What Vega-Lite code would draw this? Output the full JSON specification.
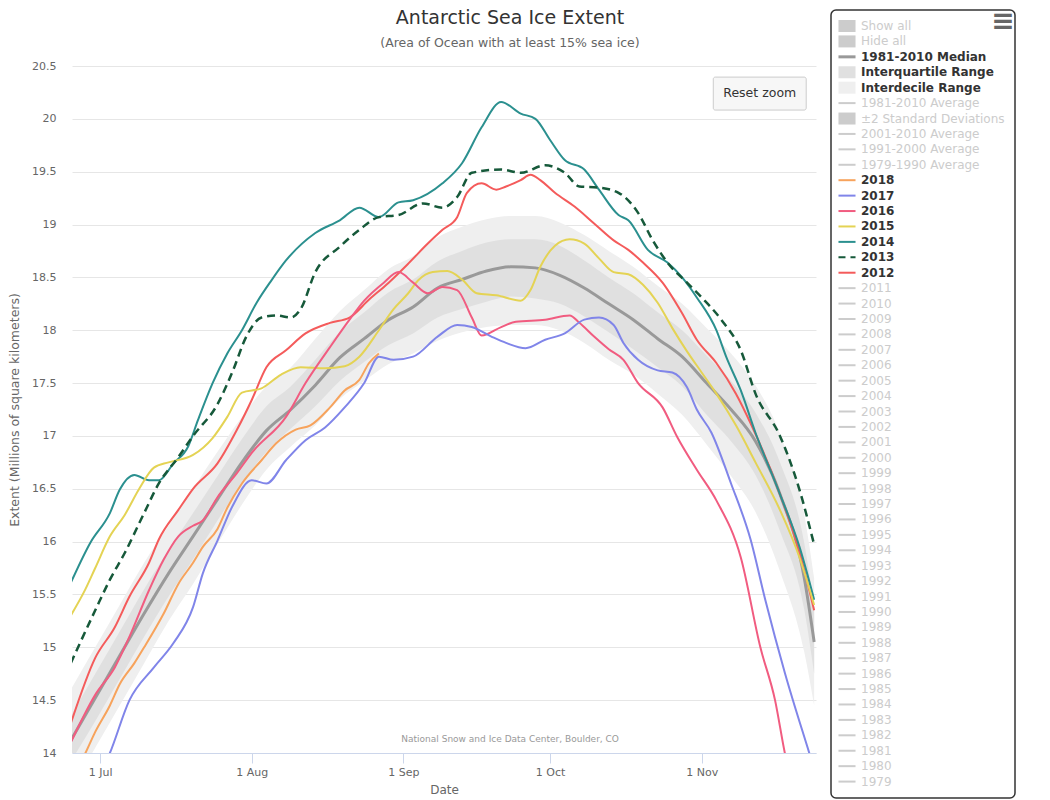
{
  "$schema": "https://vega.github.io/schema/vega-lite/v6.json",
  "width": 744,
  "height": 687,
  "autosize": {"type": "none"},
  "padding": {"left": 72, "top": 66, "right": 234, "bottom": 47},
  "background": "white",
  "config": {"font": "DejaVu Sans", "view": {"stroke": null}},
  "title": {
    "text": "Antarctic Sea Ice Extent",
    "subtitle": "(Area of Ocean with at least 15% sea ice)",
    "anchor": "middle",
    "frame": "group",
    "dx": 66,
    "dy": 56,
    "offset": 14,
    "font": "DejaVu Sans",
    "fontSize": 19,
    "fontWeight": "normal",
    "color": "#333333",
    "subtitleFont": "DejaVu Sans",
    "subtitleFontSize": 12.5,
    "subtitleColor": "#666666",
    "subtitlePadding": 9
  },
  "datasets": {
    "bands": [
      {"date": "2018-06-25", "med": 14.12, "id_lo": 13.65, "iq_lo": 13.92, "iq_hi": 14.35, "id_hi": 14.6},
      {"date": "2018-06-30", "med": 14.52, "id_lo": 14.05, "iq_lo": 14.3, "iq_hi": 14.75, "id_hi": 15.0},
      {"date": "2018-07-05", "med": 14.92, "id_lo": 14.45, "iq_lo": 14.7, "iq_hi": 15.15, "id_hi": 15.4},
      {"date": "2018-07-10", "med": 15.32, "id_lo": 14.85, "iq_lo": 15.1, "iq_hi": 15.55, "id_hi": 15.8},
      {"date": "2018-07-15", "med": 15.7, "id_lo": 15.25, "iq_lo": 15.48, "iq_hi": 15.92, "id_hi": 16.15},
      {"date": "2018-07-20", "med": 16.05, "id_lo": 15.6, "iq_lo": 15.83, "iq_hi": 16.27, "id_hi": 16.5},
      {"date": "2018-07-25", "med": 16.4, "id_lo": 15.98, "iq_lo": 16.2, "iq_hi": 16.62, "id_hi": 16.85},
      {"date": "2018-07-30", "med": 16.75, "id_lo": 16.35, "iq_lo": 16.55, "iq_hi": 16.97, "id_hi": 17.18},
      {"date": "2018-08-04", "med": 17.05, "id_lo": 16.68, "iq_lo": 16.85, "iq_hi": 17.28, "id_hi": 17.47},
      {"date": "2018-08-09", "med": 17.25, "id_lo": 16.9, "iq_lo": 17.07, "iq_hi": 17.47, "id_hi": 17.65},
      {"date": "2018-08-14", "med": 17.48, "id_lo": 17.1, "iq_lo": 17.28, "iq_hi": 17.72, "id_hi": 17.92},
      {"date": "2018-08-19", "med": 17.74, "id_lo": 17.35, "iq_lo": 17.52, "iq_hi": 17.98, "id_hi": 18.18},
      {"date": "2018-08-24", "med": 17.92, "id_lo": 17.52, "iq_lo": 17.7, "iq_hi": 18.17, "id_hi": 18.38},
      {"date": "2018-08-29", "med": 18.1, "id_lo": 17.68, "iq_lo": 17.86, "iq_hi": 18.36, "id_hi": 18.58},
      {"date": "2018-09-03", "med": 18.22, "id_lo": 17.78, "iq_lo": 17.97, "iq_hi": 18.48, "id_hi": 18.7},
      {"date": "2018-09-08", "med": 18.4, "id_lo": 17.9, "iq_lo": 18.12, "iq_hi": 18.65, "id_hi": 18.88},
      {"date": "2018-09-13", "med": 18.48, "id_lo": 17.98, "iq_lo": 18.2, "iq_hi": 18.75, "id_hi": 18.98},
      {"date": "2018-09-18", "med": 18.56, "id_lo": 18.03, "iq_lo": 18.27, "iq_hi": 18.83, "id_hi": 19.05},
      {"date": "2018-09-23", "med": 18.6, "id_lo": 18.05, "iq_lo": 18.32, "iq_hi": 18.86, "id_hi": 19.08},
      {"date": "2018-09-28", "med": 18.59, "id_lo": 18.05, "iq_lo": 18.3, "iq_hi": 18.86, "id_hi": 19.08},
      {"date": "2018-10-03", "med": 18.52, "id_lo": 18.0, "iq_lo": 18.25, "iq_hi": 18.8, "id_hi": 19.02},
      {"date": "2018-10-08", "med": 18.4, "id_lo": 17.88, "iq_lo": 18.13, "iq_hi": 18.66, "id_hi": 18.9},
      {"date": "2018-10-13", "med": 18.25, "id_lo": 17.72, "iq_lo": 17.98, "iq_hi": 18.5, "id_hi": 18.75},
      {"date": "2018-10-18", "med": 18.1, "id_lo": 17.58, "iq_lo": 17.82, "iq_hi": 18.35, "id_hi": 18.6},
      {"date": "2018-10-23", "med": 17.92, "id_lo": 17.4, "iq_lo": 17.65, "iq_hi": 18.17, "id_hi": 18.42},
      {"date": "2018-10-28", "med": 17.75, "id_lo": 17.2, "iq_lo": 17.47, "iq_hi": 18.0, "id_hi": 18.25},
      {"date": "2018-11-02", "med": 17.5, "id_lo": 16.92, "iq_lo": 17.2, "iq_hi": 17.76, "id_hi": 18.02},
      {"date": "2018-11-07", "med": 17.25, "id_lo": 16.62, "iq_lo": 16.95, "iq_hi": 17.52, "id_hi": 17.78},
      {"date": "2018-11-12", "med": 16.95, "id_lo": 16.28, "iq_lo": 16.63, "iq_hi": 17.22, "id_hi": 17.48},
      {"date": "2018-11-17", "med": 16.45, "id_lo": 15.72, "iq_lo": 16.1, "iq_hi": 16.75, "id_hi": 17.02},
      {"date": "2018-11-22", "med": 15.65, "id_lo": 14.95, "iq_lo": 15.35, "iq_hi": 15.98, "id_hi": 16.25},
      {"date": "2018-11-24", "med": 15.05, "id_lo": 14.45, "iq_lo": 14.75, "iq_hi": 15.38, "id_hi": 15.65}
    ],
    "years": [
      {"series": "2012", "date": "2018-06-25", "value": 14.28},
      {"series": "2012", "date": "2018-06-30", "value": 14.9},
      {"series": "2012", "date": "2018-07-04", "value": 15.19},
      {"series": "2012", "date": "2018-07-07", "value": 15.48},
      {"series": "2012", "date": "2018-07-11", "value": 15.8},
      {"series": "2012", "date": "2018-07-13", "value": 16.02},
      {"series": "2012", "date": "2018-07-17", "value": 16.3},
      {"series": "2012", "date": "2018-07-20", "value": 16.5},
      {"series": "2012", "date": "2018-07-25", "value": 16.74},
      {"series": "2012", "date": "2018-07-29", "value": 17.06},
      {"series": "2012", "date": "2018-08-01", "value": 17.34},
      {"series": "2012", "date": "2018-08-04", "value": 17.65},
      {"series": "2012", "date": "2018-08-08", "value": 17.81},
      {"series": "2012", "date": "2018-08-12", "value": 17.97},
      {"series": "2012", "date": "2018-08-17", "value": 18.07},
      {"series": "2012", "date": "2018-08-21", "value": 18.12},
      {"series": "2012", "date": "2018-08-25", "value": 18.29},
      {"series": "2012", "date": "2018-08-29", "value": 18.45},
      {"series": "2012", "date": "2018-09-02", "value": 18.63},
      {"series": "2012", "date": "2018-09-06", "value": 18.82},
      {"series": "2012", "date": "2018-09-09", "value": 18.95},
      {"series": "2012", "date": "2018-09-12", "value": 19.07},
      {"series": "2012", "date": "2018-09-14", "value": 19.3},
      {"series": "2012", "date": "2018-09-17", "value": 19.39},
      {"series": "2012", "date": "2018-09-20", "value": 19.33},
      {"series": "2012", "date": "2018-09-22", "value": 19.36},
      {"series": "2012", "date": "2018-09-25", "value": 19.42},
      {"series": "2012", "date": "2018-09-27", "value": 19.47},
      {"series": "2012", "date": "2018-09-29", "value": 19.42},
      {"series": "2012", "date": "2018-10-02", "value": 19.3},
      {"series": "2012", "date": "2018-10-06", "value": 19.17},
      {"series": "2012", "date": "2018-10-10", "value": 19.01},
      {"series": "2012", "date": "2018-10-14", "value": 18.85},
      {"series": "2012", "date": "2018-10-17", "value": 18.76},
      {"series": "2012", "date": "2018-10-20", "value": 18.64},
      {"series": "2012", "date": "2018-10-24", "value": 18.45},
      {"series": "2012", "date": "2018-10-28", "value": 18.16},
      {"series": "2012", "date": "2018-10-31", "value": 17.91},
      {"series": "2012", "date": "2018-11-04", "value": 17.69},
      {"series": "2012", "date": "2018-11-08", "value": 17.4},
      {"series": "2012", "date": "2018-11-11", "value": 17.12},
      {"series": "2012", "date": "2018-11-17", "value": 16.45},
      {"series": "2012", "date": "2018-11-21", "value": 15.9},
      {"series": "2012", "date": "2018-11-24", "value": 15.35},
      {"series": "2013", "date": "2018-06-25", "value": 14.85},
      {"series": "2013", "date": "2018-06-30", "value": 15.35},
      {"series": "2013", "date": "2018-07-03", "value": 15.64},
      {"series": "2013", "date": "2018-07-06", "value": 15.89},
      {"series": "2013", "date": "2018-07-10", "value": 16.27},
      {"series": "2013", "date": "2018-07-13", "value": 16.55},
      {"series": "2013", "date": "2018-07-17", "value": 16.8},
      {"series": "2013", "date": "2018-07-20", "value": 17.0},
      {"series": "2013", "date": "2018-07-25", "value": 17.3},
      {"series": "2013", "date": "2018-07-28", "value": 17.6},
      {"series": "2013", "date": "2018-07-31", "value": 17.95},
      {"series": "2013", "date": "2018-08-03", "value": 18.12},
      {"series": "2013", "date": "2018-08-06", "value": 18.14},
      {"series": "2013", "date": "2018-08-09", "value": 18.12},
      {"series": "2013", "date": "2018-08-11", "value": 18.2},
      {"series": "2013", "date": "2018-08-14", "value": 18.55},
      {"series": "2013", "date": "2018-08-19", "value": 18.79},
      {"series": "2013", "date": "2018-08-23", "value": 18.95},
      {"series": "2013", "date": "2018-08-27", "value": 19.07},
      {"series": "2013", "date": "2018-08-31", "value": 19.09},
      {"series": "2013", "date": "2018-09-05", "value": 19.2},
      {"series": "2013", "date": "2018-09-09", "value": 19.16},
      {"series": "2013", "date": "2018-09-12", "value": 19.26},
      {"series": "2013", "date": "2018-09-15", "value": 19.49},
      {"series": "2013", "date": "2018-09-21", "value": 19.52},
      {"series": "2013", "date": "2018-09-25", "value": 19.49},
      {"series": "2013", "date": "2018-09-30", "value": 19.56},
      {"series": "2013", "date": "2018-10-04", "value": 19.49},
      {"series": "2013", "date": "2018-10-07", "value": 19.36},
      {"series": "2013", "date": "2018-10-11", "value": 19.35},
      {"series": "2013", "date": "2018-10-15", "value": 19.3},
      {"series": "2013", "date": "2018-10-19", "value": 19.11},
      {"series": "2013", "date": "2018-10-22", "value": 18.85},
      {"series": "2013", "date": "2018-10-25", "value": 18.64},
      {"series": "2013", "date": "2018-10-29", "value": 18.45},
      {"series": "2013", "date": "2018-11-01", "value": 18.31},
      {"series": "2013", "date": "2018-11-05", "value": 18.1},
      {"series": "2013", "date": "2018-11-09", "value": 17.81},
      {"series": "2013", "date": "2018-11-12", "value": 17.4},
      {"series": "2013", "date": "2018-11-17", "value": 17.0},
      {"series": "2013", "date": "2018-11-21", "value": 16.49},
      {"series": "2013", "date": "2018-11-24", "value": 15.97},
      {"series": "2014", "date": "2018-06-25", "value": 15.61},
      {"series": "2014", "date": "2018-06-29", "value": 15.99},
      {"series": "2014", "date": "2018-07-03", "value": 16.27},
      {"series": "2014", "date": "2018-07-05", "value": 16.49},
      {"series": "2014", "date": "2018-07-08", "value": 16.63},
      {"series": "2014", "date": "2018-07-11", "value": 16.58},
      {"series": "2014", "date": "2018-07-13", "value": 16.58},
      {"series": "2014", "date": "2018-07-16", "value": 16.74},
      {"series": "2014", "date": "2018-07-19", "value": 16.9},
      {"series": "2014", "date": "2018-07-21", "value": 17.15},
      {"series": "2014", "date": "2018-07-24", "value": 17.5},
      {"series": "2014", "date": "2018-07-27", "value": 17.78},
      {"series": "2014", "date": "2018-07-30", "value": 18.0},
      {"series": "2014", "date": "2018-08-02", "value": 18.26},
      {"series": "2014", "date": "2018-08-05", "value": 18.47},
      {"series": "2014", "date": "2018-08-08", "value": 18.66},
      {"series": "2014", "date": "2018-08-14", "value": 18.92},
      {"series": "2014", "date": "2018-08-19", "value": 19.04},
      {"series": "2014", "date": "2018-08-23", "value": 19.16},
      {"series": "2014", "date": "2018-08-27", "value": 19.07},
      {"series": "2014", "date": "2018-08-31", "value": 19.21},
      {"series": "2014", "date": "2018-09-03", "value": 19.23},
      {"series": "2014", "date": "2018-09-09", "value": 19.39},
      {"series": "2014", "date": "2018-09-13", "value": 19.58},
      {"series": "2014", "date": "2018-09-17", "value": 19.92},
      {"series": "2014", "date": "2018-09-21", "value": 20.16},
      {"series": "2014", "date": "2018-09-25", "value": 20.05},
      {"series": "2014", "date": "2018-09-28", "value": 20.0},
      {"series": "2014", "date": "2018-10-01", "value": 19.8},
      {"series": "2014", "date": "2018-10-04", "value": 19.61},
      {"series": "2014", "date": "2018-10-08", "value": 19.52},
      {"series": "2014", "date": "2018-10-11", "value": 19.33},
      {"series": "2014", "date": "2018-10-15", "value": 19.09},
      {"series": "2014", "date": "2018-10-17", "value": 19.04},
      {"series": "2014", "date": "2018-10-21", "value": 18.76},
      {"series": "2014", "date": "2018-10-25", "value": 18.64},
      {"series": "2014", "date": "2018-10-28", "value": 18.5},
      {"series": "2014", "date": "2018-10-31", "value": 18.31},
      {"series": "2014", "date": "2018-11-04", "value": 18.0},
      {"series": "2014", "date": "2018-11-06", "value": 17.75},
      {"series": "2014", "date": "2018-11-09", "value": 17.43},
      {"series": "2014", "date": "2018-11-12", "value": 17.03},
      {"series": "2014", "date": "2018-11-17", "value": 16.45},
      {"series": "2014", "date": "2018-11-21", "value": 15.95},
      {"series": "2014", "date": "2018-11-24", "value": 15.45},
      {"series": "2015", "date": "2018-06-25", "value": 15.3},
      {"series": "2015", "date": "2018-06-28", "value": 15.55},
      {"series": "2015", "date": "2018-06-30", "value": 15.75},
      {"series": "2015", "date": "2018-07-03", "value": 16.05},
      {"series": "2015", "date": "2018-07-06", "value": 16.25},
      {"series": "2015", "date": "2018-07-09", "value": 16.5},
      {"series": "2015", "date": "2018-07-12", "value": 16.7},
      {"series": "2015", "date": "2018-07-15", "value": 16.75},
      {"series": "2015", "date": "2018-07-20", "value": 16.82},
      {"series": "2015", "date": "2018-07-24", "value": 16.98},
      {"series": "2015", "date": "2018-07-27", "value": 17.18},
      {"series": "2015", "date": "2018-07-30", "value": 17.41},
      {"series": "2015", "date": "2018-08-03", "value": 17.45},
      {"series": "2015", "date": "2018-08-07", "value": 17.58},
      {"series": "2015", "date": "2018-08-11", "value": 17.65},
      {"series": "2015", "date": "2018-08-16", "value": 17.64},
      {"series": "2015", "date": "2018-08-20", "value": 17.66},
      {"series": "2015", "date": "2018-08-23", "value": 17.75},
      {"series": "2015", "date": "2018-08-27", "value": 18.0},
      {"series": "2015", "date": "2018-08-30", "value": 18.2},
      {"series": "2015", "date": "2018-09-02", "value": 18.35},
      {"series": "2015", "date": "2018-09-04", "value": 18.47},
      {"series": "2015", "date": "2018-09-07", "value": 18.55},
      {"series": "2015", "date": "2018-09-10", "value": 18.56},
      {"series": "2015", "date": "2018-09-13", "value": 18.48},
      {"series": "2015", "date": "2018-09-16", "value": 18.35},
      {"series": "2015", "date": "2018-09-20", "value": 18.33},
      {"series": "2015", "date": "2018-09-25", "value": 18.28},
      {"series": "2015", "date": "2018-09-27", "value": 18.38},
      {"series": "2015", "date": "2018-09-29", "value": 18.6},
      {"series": "2015", "date": "2018-10-02", "value": 18.8},
      {"series": "2015", "date": "2018-10-05", "value": 18.86},
      {"series": "2015", "date": "2018-10-08", "value": 18.82},
      {"series": "2015", "date": "2018-10-11", "value": 18.68},
      {"series": "2015", "date": "2018-10-14", "value": 18.55},
      {"series": "2015", "date": "2018-10-17", "value": 18.53},
      {"series": "2015", "date": "2018-10-20", "value": 18.43},
      {"series": "2015", "date": "2018-10-23", "value": 18.26},
      {"series": "2015", "date": "2018-10-26", "value": 18.02},
      {"series": "2015", "date": "2018-10-29", "value": 17.8},
      {"series": "2015", "date": "2018-11-01", "value": 17.6},
      {"series": "2015", "date": "2018-11-04", "value": 17.4},
      {"series": "2015", "date": "2018-11-08", "value": 17.1},
      {"series": "2015", "date": "2018-11-12", "value": 16.75},
      {"series": "2015", "date": "2018-11-17", "value": 16.3},
      {"series": "2015", "date": "2018-11-21", "value": 15.85},
      {"series": "2015", "date": "2018-11-24", "value": 15.4},
      {"series": "2016", "date": "2018-06-25", "value": 14.1},
      {"series": "2016", "date": "2018-06-30", "value": 14.55},
      {"series": "2016", "date": "2018-07-04", "value": 14.81},
      {"series": "2016", "date": "2018-07-07", "value": 15.1},
      {"series": "2016", "date": "2018-07-11", "value": 15.54},
      {"series": "2016", "date": "2018-07-14", "value": 15.83},
      {"series": "2016", "date": "2018-07-17", "value": 16.05},
      {"series": "2016", "date": "2018-07-20", "value": 16.15},
      {"series": "2016", "date": "2018-07-22", "value": 16.2},
      {"series": "2016", "date": "2018-07-25", "value": 16.42},
      {"series": "2016", "date": "2018-07-29", "value": 16.65},
      {"series": "2016", "date": "2018-08-01", "value": 16.84},
      {"series": "2016", "date": "2018-08-08", "value": 17.18},
      {"series": "2016", "date": "2018-08-12", "value": 17.5},
      {"series": "2016", "date": "2018-08-17", "value": 17.84},
      {"series": "2016", "date": "2018-08-21", "value": 18.1},
      {"series": "2016", "date": "2018-08-24", "value": 18.28},
      {"series": "2016", "date": "2018-08-28", "value": 18.45},
      {"series": "2016", "date": "2018-08-31", "value": 18.55},
      {"series": "2016", "date": "2018-09-03", "value": 18.45},
      {"series": "2016", "date": "2018-09-06", "value": 18.35},
      {"series": "2016", "date": "2018-09-09", "value": 18.41},
      {"series": "2016", "date": "2018-09-12", "value": 18.38},
      {"series": "2016", "date": "2018-09-15", "value": 18.12},
      {"series": "2016", "date": "2018-09-17", "value": 17.95},
      {"series": "2016", "date": "2018-09-21", "value": 18.03},
      {"series": "2016", "date": "2018-09-24", "value": 18.08},
      {"series": "2016", "date": "2018-09-30", "value": 18.1},
      {"series": "2016", "date": "2018-10-05", "value": 18.14},
      {"series": "2016", "date": "2018-10-07", "value": 18.07},
      {"series": "2016", "date": "2018-10-10", "value": 17.94},
      {"series": "2016", "date": "2018-10-13", "value": 17.82},
      {"series": "2016", "date": "2018-10-16", "value": 17.72},
      {"series": "2016", "date": "2018-10-19", "value": 17.5},
      {"series": "2016", "date": "2018-10-24", "value": 17.27},
      {"series": "2016", "date": "2018-10-27", "value": 16.99},
      {"series": "2016", "date": "2018-10-31", "value": 16.68},
      {"series": "2016", "date": "2018-11-04", "value": 16.39},
      {"series": "2016", "date": "2018-11-09", "value": 15.85},
      {"series": "2016", "date": "2018-11-13", "value": 15.0},
      {"series": "2016", "date": "2018-11-16", "value": 14.5},
      {"series": "2016", "date": "2018-11-18", "value": 14.0},
      {"series": "2016", "date": "2018-11-20", "value": 13.6},
      {"series": "2017", "date": "2018-06-25", "value": 13.2},
      {"series": "2017", "date": "2018-06-30", "value": 13.7},
      {"series": "2017", "date": "2018-07-03", "value": 14.0},
      {"series": "2017", "date": "2018-07-07", "value": 14.5},
      {"series": "2017", "date": "2018-07-12", "value": 14.81},
      {"series": "2017", "date": "2018-07-16", "value": 15.04},
      {"series": "2017", "date": "2018-07-20", "value": 15.38},
      {"series": "2017", "date": "2018-07-22", "value": 15.7},
      {"series": "2017", "date": "2018-07-25", "value": 16.01},
      {"series": "2017", "date": "2018-07-28", "value": 16.33},
      {"series": "2017", "date": "2018-08-01", "value": 16.58},
      {"series": "2017", "date": "2018-08-04", "value": 16.55},
      {"series": "2017", "date": "2018-08-08", "value": 16.77},
      {"series": "2017", "date": "2018-08-12", "value": 16.96},
      {"series": "2017", "date": "2018-08-16", "value": 17.08},
      {"series": "2017", "date": "2018-08-20", "value": 17.27},
      {"series": "2017", "date": "2018-08-24", "value": 17.5},
      {"series": "2017", "date": "2018-08-27", "value": 17.75},
      {"series": "2017", "date": "2018-08-30", "value": 17.72},
      {"series": "2017", "date": "2018-09-03", "value": 17.75},
      {"series": "2017", "date": "2018-09-08", "value": 17.94},
      {"series": "2017", "date": "2018-09-12", "value": 18.05},
      {"series": "2017", "date": "2018-09-15", "value": 18.03},
      {"series": "2017", "date": "2018-09-19", "value": 17.94},
      {"series": "2017", "date": "2018-09-22", "value": 17.88},
      {"series": "2017", "date": "2018-09-26", "value": 17.83},
      {"series": "2017", "date": "2018-09-30", "value": 17.91},
      {"series": "2017", "date": "2018-10-04", "value": 17.97},
      {"series": "2017", "date": "2018-10-08", "value": 18.1},
      {"series": "2017", "date": "2018-10-11", "value": 18.12},
      {"series": "2017", "date": "2018-10-14", "value": 18.05},
      {"series": "2017", "date": "2018-10-16", "value": 17.88},
      {"series": "2017", "date": "2018-10-19", "value": 17.72},
      {"series": "2017", "date": "2018-10-23", "value": 17.62},
      {"series": "2017", "date": "2018-10-26", "value": 17.6},
      {"series": "2017", "date": "2018-10-29", "value": 17.46},
      {"series": "2017", "date": "2018-10-31", "value": 17.25},
      {"series": "2017", "date": "2018-11-03", "value": 17.03},
      {"series": "2017", "date": "2018-11-07", "value": 16.55},
      {"series": "2017", "date": "2018-11-11", "value": 16.02},
      {"series": "2017", "date": "2018-11-14", "value": 15.45},
      {"series": "2017", "date": "2018-11-18", "value": 14.76},
      {"series": "2017", "date": "2018-11-23", "value": 14.0},
      {"series": "2017", "date": "2018-11-25", "value": 13.7},
      {"series": "2018", "date": "2018-06-25", "value": 13.75},
      {"series": "2018", "date": "2018-06-28", "value": 14.0},
      {"series": "2018", "date": "2018-06-30", "value": 14.2},
      {"series": "2018", "date": "2018-07-03", "value": 14.45},
      {"series": "2018", "date": "2018-07-05", "value": 14.65},
      {"series": "2018", "date": "2018-07-08", "value": 14.85},
      {"series": "2018", "date": "2018-07-10", "value": 15.0},
      {"series": "2018", "date": "2018-07-14", "value": 15.32},
      {"series": "2018", "date": "2018-07-17", "value": 15.6},
      {"series": "2018", "date": "2018-07-20", "value": 15.8},
      {"series": "2018", "date": "2018-07-22", "value": 15.95},
      {"series": "2018", "date": "2018-07-25", "value": 16.12},
      {"series": "2018", "date": "2018-07-27", "value": 16.32},
      {"series": "2018", "date": "2018-07-30", "value": 16.55},
      {"series": "2018", "date": "2018-08-03", "value": 16.77},
      {"series": "2018", "date": "2018-08-06", "value": 16.93},
      {"series": "2018", "date": "2018-08-10", "value": 17.06},
      {"series": "2018", "date": "2018-08-13", "value": 17.1},
      {"series": "2018", "date": "2018-08-17", "value": 17.27},
      {"series": "2018", "date": "2018-08-20", "value": 17.43},
      {"series": "2018", "date": "2018-08-23", "value": 17.53},
      {"series": "2018", "date": "2018-08-25", "value": 17.69},
      {"series": "2018", "date": "2018-08-27", "value": 17.78}
    ]
  },
  "layer": [
    {
      "data": {"name": "bands"},
      "mark": {"type": "area", "interpolate": "monotone", "clip": true, "opacity": 1},
      "encoding": {
        "x": {
          "field": "date",
          "type": "temporal",
          "scale": {"domain": [{"year": 2018, "month": 6, "date": 25, "hours": 6}, {"year": 2018, "month": 11, "date": 24, "hours": 9}]},
          "axis": {
            "title": "Date",
            "values": [{"year": 2018, "month": 7, "date": 1}, {"year": 2018, "month": 8, "date": 1}, {"year": 2018, "month": 9, "date": 1}, {"year": 2018, "month": 10, "date": 1}, {"year": 2018, "month": 11, "date": 1}],
            "format": "%-d %b",
            "grid": false,
            "domainColor": "#ccd6eb",
            "tickColor": "#ccd6eb",
            "tickSize": 10,
            "labelColor": "#666666",
            "labelFontSize": 11,
            "labelPadding": 3,
            "titleColor": "#666666",
            "titleFontSize": 12,
            "titleFontWeight": "normal",
            "titlePadding": 7
          }
        },
        "y": {
          "field": "id_lo",
          "type": "quantitative",
          "scale": {"domain": [14, 20.5], "nice": false, "zero": false},
          "axis": {
            "title": "Extent (Millions of square kilometers)",
            "values": [14, 14.5, 15, 15.5, 16, 16.5, 17, 17.5, 18, 18.5, 19, 19.5, 20, 20.5],
            "format": "~g",
            "domain": false,
            "ticks": false,
            "gridColor": "#e6e6e6",
            "labelColor": "#666666",
            "labelFontSize": 11,
            "labelPadding": 16,
            "titleColor": "#666666",
            "titleFontSize": 12.5,
            "titleFontWeight": "normal",
            "titlePadding": 10
          }
        },
        "y2": {"field": "id_hi"},
        "color": {"datum": "Interdecile Range", "type": "nominal"}
      }
    },
    {
      "data": {"name": "bands"},
      "mark": {"type": "area", "interpolate": "monotone", "clip": true, "opacity": 1},
      "encoding": {
        "x": {"field": "date", "type": "temporal"},
        "y": {"field": "iq_lo", "type": "quantitative"},
        "y2": {"field": "iq_hi"},
        "color": {"datum": "Interquartile Range", "type": "nominal"}
      }
    },
    {
      "data": {"name": "bands"},
      "mark": {"type": "line", "interpolate": "monotone", "clip": true, "strokeWidth": 3},
      "encoding": {
        "x": {"field": "date", "type": "temporal"},
        "y": {"field": "med", "type": "quantitative"},
        "color": {"datum": "1981-2010 Median", "type": "nominal"}
      }
    },
    {
      "data": {"name": "years"},
      "transform": [{"filter": "datum.series !== '2013'"}],
      "mark": {"type": "line", "interpolate": "monotone", "clip": true, "strokeWidth": 2},
      "encoding": {
        "x": {"field": "date", "type": "temporal"},
        "y": {"field": "value", "type": "quantitative"},
        "color": {
          "field": "series",
          "type": "nominal",
          "scale": {
            "domain": ["Show all", "Hide all", "1981-2010 Median", "Interquartile Range", "Interdecile Range", "1981-2010 Average", "±2 Standard Deviations", "2001-2010 Average", "1991-2000 Average", "1979-1990 Average", "2018", "2017", "2016", "2015", "2014", "2013", "2012", "2011", "2010", "2009", "2008", "2007", "2006", "2005", "2004", "2003", "2002", "2001", "2000", "1999", "1998", "1997", "1996", "1995", "1994", "1993", "1992", "1991", "1990", "1989", "1988", "1987", "1986", "1985", "1984", "1983", "1982", "1981", "1980", "1979"],
            "range": ["#cccccc", "#cccccc", "#999999", "#e0e0e0", "#efefef", "#cccccc", "#cccccc", "#cccccc", "#cccccc", "#cccccc", "#f7a35c", "#8085e9", "#f15c80", "#e4d354", "#2b908f", "#16593a", "#f45b5b", "#cccccc", "#cccccc", "#cccccc", "#cccccc", "#cccccc", "#cccccc", "#cccccc", "#cccccc", "#cccccc", "#cccccc", "#cccccc", "#cccccc", "#cccccc", "#cccccc", "#cccccc", "#cccccc", "#cccccc", "#cccccc", "#cccccc", "#cccccc", "#cccccc", "#cccccc", "#cccccc", "#cccccc", "#cccccc", "#cccccc", "#cccccc", "#cccccc", "#cccccc", "#cccccc", "#cccccc", "#cccccc", "#cccccc"]
          },
          "legend": {
            "orient": "none",
            "legendX": 759,
            "legendY": -56,
            "title": null,
            "padding": 10,
            "strokeColor": "#333333",
            "fillColor": null,
            "cornerRadius": 5,
            "labelFont": "DejaVu Sans",
            "labelFontSize": 12,
            "labelFontWeight": "bold",
            "labelColor": "#333333",
            "labelOffset": 8,
            "labelLimit": 300,
            "rowPadding": 3.42,
            "symbolSize": 144,
            "symbolType": "stroke",
            "symbolLimit": 100,
            "encode": {
              "legend": {"update": {"strokeWidth": {"value": 1.5}}},
              "symbols": {
                "update": {
                  "shape": {"signal": "indexof(['Show all','Hide all','Interquartile Range','Interdecile Range','±2 Standard Deviations'], datum.value) >= 0 ? 'M-1.42,-1H1.42V1H-1.42Z' : 'M-1.42,0H1.42'"},
                  "fill": {"signal": "datum.value === 'Interdecile Range' ? '#e6e6e6' : (indexof(['Show all','Hide all','Interquartile Range','±2 Standard Deviations'], datum.value) >= 0 ? '#cccccc' : 'transparent')"},
                  "stroke": {"signal": "indexof(['Show all','Hide all','Interquartile Range','Interdecile Range','±2 Standard Deviations'], datum.value) >= 0 ? null : (datum.value === '1981-2010 Median' ? '#888888' : scale('color', datum.value))"},
                  "strokeWidth": {"signal": "indexof(['Show all','Hide all','Interquartile Range','Interdecile Range','±2 Standard Deviations'], datum.value) >= 0 ? 0 : (datum.value === '1981-2010 Median' ? 3 : 2)"},
                  "strokeDash": {"signal": "datum.value === '2013' ? [7, 5] : null"},
                  "opacity": {"value": 1}
                }
              },
              "labels": {
                "update": {
                  "fill": {"signal": "indexof(['1981-2010 Median','Interquartile Range','Interdecile Range','2018','2017','2016','2015','2014','2013','2012'], datum.value) >= 0 ? '#333333' : '#cccccc'"},
                  "fontWeight": {"signal": "indexof(['1981-2010 Median','Interquartile Range','Interdecile Range','2018','2017','2016','2015','2014','2013','2012'], datum.value) >= 0 ? 'bold' : 'normal'"}
                }
              }
            }
          }
        }
      }
    },
    {
      "data": {"name": "years"},
      "transform": [{"filter": "datum.series === '2013'"}],
      "mark": {"type": "line", "interpolate": "monotone", "clip": true, "strokeWidth": 2.5, "strokeDash": [8, 5]},
      "encoding": {
        "x": {"field": "date", "type": "temporal"},
        "y": {"field": "value", "type": "quantitative"},
        "color": {"field": "series", "type": "nominal"}
      }
    },
    {
      "data": {"values": [{"label": "National Snow and Ice Data Center, Boulder, CO"}]},
      "mark": {"type": "text", "fontSize": 9, "color": "#999999", "align": "center", "baseline": "middle"},
      "encoding": {
        "text": {"field": "label"},
        "x": {"datum": {"year": 2018, "month": 9, "date": 22, "hours": 20}, "type": "temporal"},
        "y": {"datum": 14.13, "type": "quantitative"}
      }
    },
    {
      "data": {"values": [{"label": "Reset zoom"}]},
      "mark": {"type": "rect", "fill": "#f7f7f7", "stroke": "#cccccc", "strokeWidth": 1, "cornerRadius": 2},
      "encoding": {
        "x": {"datum": {"year": 2018, "month": 11, "date": 3, "hours": 9}, "type": "temporal"},
        "x2": {"datum": {"year": 2018, "month": 11, "date": 22, "hours": 9}},
        "y": {"datum": 20.395, "type": "quantitative"},
        "y2": {"datum": 20.083}
      }
    },
    {
      "data": {"values": [{"label": "Reset zoom"}]},
      "mark": {"type": "text", "fontSize": 12.5, "color": "#333333", "align": "center", "baseline": "middle"},
      "encoding": {
        "text": {"field": "label"},
        "x": {"datum": {"year": 2018, "month": 11, "date": 12, "hours": 21}, "type": "temporal"},
        "y": {"datum": 20.24, "type": "quantitative"}
      }
    },
    {
      "data": {"values": [{"label": "≡"}]},
      "mark": {"type": "text", "fontSize": 28, "fontWeight": "bold", "color": "#666666", "align": "center", "baseline": "middle"},
      "encoding": {
        "text": {"field": "label"},
        "x": {"datum": {"year": 2019, "month": 1, "date": 1, "hours": 14}, "type": "temporal"},
        "y": {"datum": 20.92, "type": "quantitative"}
      }
    }
  ]
}
